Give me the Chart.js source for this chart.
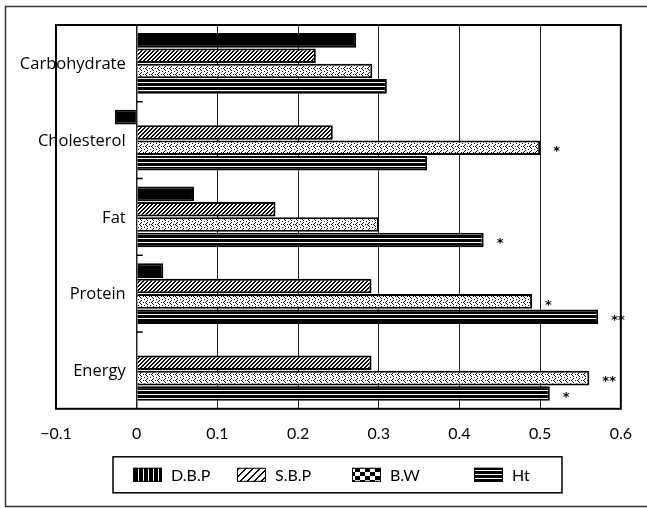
<!DOCTYPE html>
<html>
<head>
<meta charset="utf-8">
<script src="https://cdn.jsdelivr.net/npm/chart.js@4.4.1/dist/chart.umd.min.js"></script>
<style>
  html, body { margin: 0; padding: 0; background: #fff; }
  #wrap { width: 647px; height: 508px; position: relative; }
</style>
</head>
<body>
<div id="wrap"><canvas id="chart"></canvas></div>
<script>
const nutrients = ["Carbohydrate", "Cholesterol", "Fat", "Protein", "Energy"];
const seriesNames = ["D.B.P", "S.B.P", "B.W", "Ht"];
const dbp = [0.272, -0.027, 0.071, 0.033, 0];
const sbp = [0.222, 0.243, 0.172, 0.291, 0.291];
const bw = [0.292, 0.5, 0.3, 0.49, 0.561];
const ht = [0.31, 0.36, 0.43, 0.572, 0.512];
// significance marks printed after the B.W and Ht bars
const bwMarks = ["", "*", "", "*", "**"];
const htMarks = ["", "", "*", "**", "*"];
const xTicks = [-0.1, 0, 0.1, 0.2, 0.3, 0.4, 0.5, 0.6];

const canvas = document.getElementById("chart");
const mainCtx = canvas.getContext("2d");

// small repeating tiles for the black & white fills
const tile = (w, h, bg, draw) => {
  const c = document.createElement("canvas");
  c.width = w;
  c.height = h;
  const g = c.getContext("2d");
  g.fillStyle = bg;
  g.fillRect(0, 0, w, h);
  g.fillStyle = bg === "#000" ? "#fff" : "#000";
  draw(g);
  return mainCtx.createPattern(c, "repeat");
};

const hatch = (size, thick) => tile(size, size, "#fff", (g) => {
  for (let i = 0; i < size; i++) {
    for (let t = 0; t < thick; t++) g.fillRect(i, (size - 1 - i + t) % size, 1, 1);
  }
});

const fills = {
  dbp: "#000",
  sbp: hatch(4, 2),
  bw: tile(6, 6, "#fff", (g) => {
    [[3, 0], [2, 1], [1, 2], [2, 3], [3, 4], [5, 2], [0, 5]].forEach(([x, y]) => g.fillRect(x, y, 1, 1));
  }),
  ht: tile(4, 4, "#000", (g) => g.fillRect(0, 2, 4, 1)),
};

const legendFills = [
  tile(5, 5, "#000", (g) => g.fillRect(3, 0, 1, 5)),
  hatch(7, 2),
  tile(10, 8, "#fff", (g) => { g.fillRect(0, 0, 5, 4); g.fillRect(5, 4, 5, 4); }),
  tile(4, 4, "#000", (g) => g.fillRect(0, 2, 4, 1)),
];

const fmtTick = (v) => {
  const n = Number(v.toFixed(1));
  return n < 0 ? "\u2212" + Math.abs(n) : String(n);
};

const decor = {
  id: "decor",
  beforeDraw(chart) {
    const { ctx } = chart;
    ctx.save();
    ctx.fillStyle = "#fff";
    ctx.fillRect(0, 0, chart.width, chart.height);
    ctx.strokeStyle = "#333";
    ctx.lineWidth = 1.5;
    ctx.strokeRect(5.5, 6.5, chart.width + 20, 500);
    ctx.restore();
  },
  afterDatasetsDraw(chart) {
    const { ctx, chartArea: a, scales: { x, y } } = chart;
    const x0 = x.getPixelForValue(0);
    ctx.save();

    // plot frame
    ctx.strokeStyle = "#000";
    ctx.lineWidth = 2;
    ctx.strokeRect(a.left, a.top, a.right - a.left, a.bottom - a.top);

    // little ticks on the zero line between groups
    ctx.lineWidth = 1.5;
    for (let i = 0; i < nutrients.length - 1; i++) {
      const yy = y.getPixelForValue(i + 0.5);
      ctx.beginPath();
      ctx.moveTo(x0, yy);
      ctx.lineTo(x0 + 6, yy);
      ctx.stroke();
    }

    // category names sit inside the plot, right of the frame
    ctx.fillStyle = "#000";
    ctx.font = "16.5px 'Open Sans'";
    ctx.textAlign = "right";
    ctx.textBaseline = "middle";
    nutrients.forEach((name, i) => {
      ctx.fillText(name, x0 - 11, y.getPixelForValue(i) + 1);
    });

    // significance stars
    ctx.font = "bold 13px 'DejaVu Sans'";
    ctx.textAlign = "left";
    [[2, bwMarks], [3, htMarks]].forEach(([di, marks]) => {
      const meta = chart.getDatasetMeta(di);
      marks.forEach((m, i) => {
        if (!m) return;
        const bar = meta.data[i];
        ctx.fillText(m, bar.x + 13, bar.y + 4);
      });
    });

    // legend box
    const lx = a.left + 57;
    const ly = a.bottom + 48;
    ctx.lineWidth = 1.5;
    ctx.strokeRect(lx, ly, 449, 36);
    const cols = [20, 124, 239, 361];
    ctx.font = "16px Lato";
    ctx.textBaseline = "middle";
    seriesNames.forEach((name, i) => {
      const px = lx + cols[i];
      const py = ly + 11;
      ctx.fillStyle = legendFills[i];
      ctx.fillRect(px, py, 29, 14);
      ctx.strokeStyle = "#000";
      ctx.lineWidth = 1;
      ctx.strokeRect(px + 0.5, py + 0.5, 28, 13);
      ctx.fillStyle = "#000";
      ctx.fillText(name, px + 38, py + 8);
    });
    ctx.restore();
  },
};

const seriesData = [dbp, sbp, bw, ht];
const seriesFills = [fills.dbp, fills.sbp, fills.bw, fills.ht];

new Chart(canvas, {
  type: "bar",
  data: {
    labels: nutrients,
    datasets: seriesNames.map((name, i) => ({
      label: name,
      data: seriesData[i],
      backgroundColor: seriesFills[i],
      borderColor: "#000",
      borderWidth: 2,
      borderSkipped: "start",
    })),
  },
  options: {
    indexAxis: "y",
    responsive: true,
    maintainAspectRatio: false,
    animation: false,
    layout: { padding: { left: 56, right: 23, top: 25, bottom: 50 } },
    datasets: { bar: { categoryPercentage: 0.8, barPercentage: 0.95 } },
    scales: {
      x: {
        min: -0.1,
        max: 0.6,
        afterBuildTicks: (scale) => {
          scale.ticks = xTicks.map((v) => ({ value: v }));
        },
        grid: {
          color: "#222",
          lineWidth: (c) => (c.tick && c.tick.value === 0 ? 1.5 : 1),
          drawTicks: false,
        },
        border: { display: false },
        ticks: {
          color: "#000",
          font: { family: "Lato", size: 16 },
          padding: 15,
          maxRotation: 0,
          callback: (v) => fmtTick(v),
        },
      },
      y: { display: false, grid: { display: false } },
    },
    plugins: {
      legend: { display: false },
      tooltip: { enabled: false },
    },
  },
  plugins: [decor],
});
</script>
</body>
</html>
